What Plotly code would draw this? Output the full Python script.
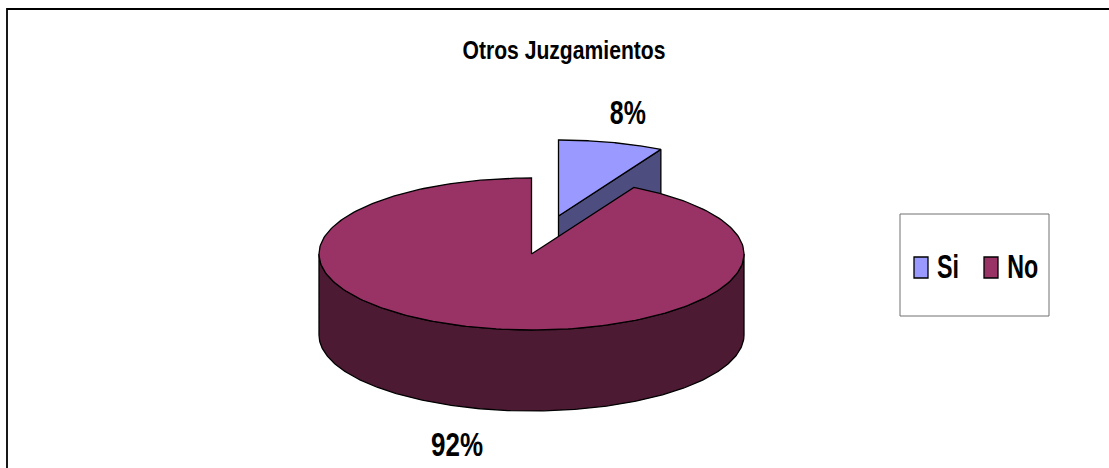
import json

import numpy as np
import plotly.graph_objects as go

# Chart content
title = "Otros Juzgamientos"
categories = ["Si", "No"]
values = [8, 92]
top_colors = ["#9999FF", "#993366"]
wall_colors = ["#4D4D80", "#4D1A33"]
FONT = "Liberation Sans, Arial, sans-serif"

# Projection of the tilted disc, in plot units (one unit is one screen pixel)
CX, CY = 531.5, 254.0
RX, RY = 212.5, 76.0
DEPTH = 81.0
EXPLODE = (27.0, -38.0)


def rim(start_deg, end_deg, cx=CX, cy=CY, dy=0.0):
    """Points on the ellipse, clockwise from twelve o'clock."""
    t = np.radians(np.linspace(start_deg, end_deg, 240))
    return cx + RX * np.sin(t), cy - RY * np.cos(t) + dy


def polygon(xs, ys, color, name):
    return go.Scatter(
        x=list(xs), y=list(ys), mode="lines", fill="toself", fillcolor=color,
        line=dict(color="black", width=1.3), name=name, hoverinfo="name",
        showlegend=False,
    )


total = sum(values)
boundary = 360.0 * values[0] / total
fig = go.Figure()

# Pulled-out slice: cut face first, then its top
sx, sy = CX + EXPLODE[0], CY + EXPLODE[1]
ex, ey = rim(boundary, boundary, sx, sy)
fig.add_trace(polygon(
    [sx, ex[0], ex[0], sx, sx],
    [sy, ey[0], ey[0] + DEPTH, sy + DEPTH, sy],
    wall_colors[0], categories[0],
))
ax, ay = rim(0, boundary, sx, sy)
fig.add_trace(polygon(
    np.r_[sx, ax, sx], np.r_[sy, ay, sy], top_colors[0], categories[0],
))

# Main slice: front wall, then its top
ux, uy = rim(90, 270)
lx, ly = rim(270, 90, dy=DEPTH)
fig.add_trace(polygon(
    np.r_[ux, lx, ux[0]], np.r_[uy, ly, uy[0]], wall_colors[1], categories[1],
))
bx, by = rim(boundary, 360)
fig.add_trace(polygon(
    np.r_[CX, bx, CX], np.r_[CY, by, CY], top_colors[1], categories[1],
))

shapes = [
    # Chart frame: only its top and left edges fall on the page
    dict(type="rect", x0=7, y0=9, x1=1140, y1=500,
         line=dict(color="black", width=1.8)),
    # Legend frame and swatches
    dict(type="rect", x0=900, y0=214, x1=1049, y1=316,
         line=dict(color="#707070", width=1)),
    dict(type="rect", x0=914, y0=257, x1=928, y1=278,
         fillcolor=top_colors[0], line=dict(color="black", width=1.3)),
    dict(type="rect", x0=984, y0=257, x1=998, y1=278,
         fillcolor=top_colors[1], line=dict(color="black", width=1.3)),
]


def label(x, y, text, size):
    return dict(x=x, y=y, text=text, showarrow=False, xanchor="center",
                yanchor="middle",
                font=dict(family=FONT, size=size, color="black", weight=700))


annotations = [
    label(564, 50, title, 26),
    label(628, 112, f"{values[0]}%", 33),
    label(457, 444, f"{values[1]}%", 33),
    label(948, 266, categories[0], 34),
    label(1022.5, 266, categories[1], 34),
]

fig.update_layout(
    width=1109, height=468, margin=dict(l=0, r=0, t=0, b=0),
    paper_bgcolor="white", plot_bgcolor="white", showlegend=False,
    xaxis=dict(range=[0, 1109], visible=False, fixedrange=True),
    yaxis=dict(range=[468, 0], visible=False, fixedrange=True),
    shapes=shapes, annotations=annotations,
)

# The labels are set in a condensed cut: squeeze each text run to its width
label_widths = [203, 36, 52, 22, 31]
condense = """
var widths = %s;
var gd = document.getElementById('{plot_id}');
function condense() {
  gd.querySelectorAll('.annotation-text').forEach(function (el, i) {
    el.setAttribute('lengthAdjust', 'spacingAndGlyphs');
    el.setAttribute('textLength', widths[i]);
  });
}
condense();
gd.on('plotly_afterplot', condense);
""" % json.dumps(label_widths)

fig.write_html("out.html", config=dict(displayModeBar=False), post_script=condense)
